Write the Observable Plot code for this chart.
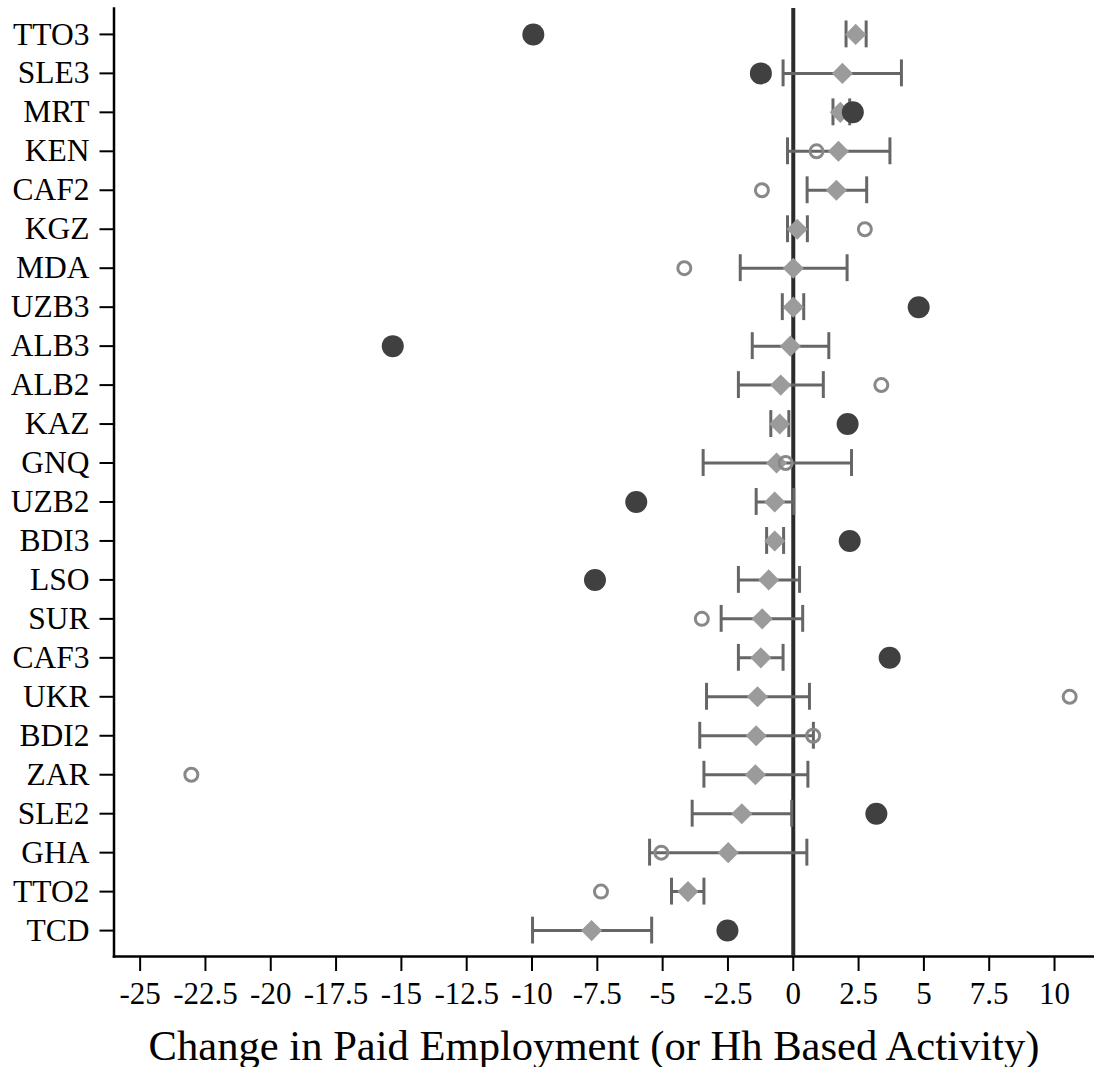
<!DOCTYPE html>
<html>
<head>
<meta charset="utf-8">
<script src="https://cdn.jsdelivr.net/npm/d3@7"></script>
<script src="https://cdn.jsdelivr.net/npm/@observablehq/plot@0.6"></script>
<style>
  body { margin: 0; background: #fff; }
  #xlabel {
    width: 1094px; box-sizing: border-box; padding-left: 94px;
    text-align: center; font-family: "Liberation Serif", serif;
    font-size: 42.6px; line-height: 42px; margin-top: 10px; color: #000;
  }
</style>
</head>
<body>
<div id="chart"></div>
<div id="xlabel">Change in Paid Employment (or Hh Based Activity)</div>
<script>
const countries = ["TTO3","SLE3","MRT","KEN","CAF2","KGZ","MDA","UZB3","ALB3","ALB2","KAZ","GNQ","UZB2","BDI3","LSO","SUR","CAF3","UKR","BDI2","ZAR","SLE2","GHA","TTO2","TCD"];
const estimate = [2.39, 1.88, 1.80, 1.73, 1.65, 0.15, 0.00, 0.00, -0.11, -0.48, -0.52, -0.64, -0.71, -0.71, -0.94, -1.19, -1.24, -1.37, -1.42, -1.45, -1.97, -2.49, -4.03, -7.72];
const ciLow = [2.02, -0.39, 1.52, -0.22, 0.53, -0.22, -2.03, -0.42, -1.57, -2.10, -0.86, -3.45, -1.42, -1.02, -2.10, -2.76, -2.10, -3.32, -3.58, -3.42, -3.87, -5.50, -4.66, -9.98];
const ciHigh = [2.79, 4.14, 2.16, 3.70, 2.81, 0.54, 2.06, 0.40, 1.36, 1.15, -0.17, 2.23, 0.02, -0.37, 0.24, 0.36, -0.39, 0.62, 0.77, 0.56, -0.06, 0.52, -3.42, -5.42];
const comparison = [-9.95, -1.24, 2.28, 0.89, -1.20, 2.74, -4.17, 4.80, -15.33, 3.37, 2.08, -0.29, -6.01, 2.16, -7.59, -3.50, 3.69, 10.58, 0.76, -23.04, 3.18, -5.05, -7.36, -2.52];
const significant = [true, true, true, false, false, false, false, true, true, false, true, false, true, true, true, false, true, false, false, false, true, false, false, true];
const xTicks = [-25, -22.5, -20, -17.5, -15, -12.5, -10, -7.5, -5, -2.5, 0, 2.5, 5, 7.5, 10];

const rows = countries.map((c, i) => ({
  country: c, est: estimate[i], lo: ciLow[i], hi: ciHigh[i],
  other: comparison[i], sig: significant[i]
}));

const font = "Liberation Serif";

const chart = Plot.plot({
  width: 1094,
  height: 1015,
  marginLeft: 113.5,
  marginRight: 0,
  marginTop: 8,
  marginBottom: 59,
  style: { fontFamily: font, background: "#fff", color: "#000" },
  x: { domain: [-26, 11.53], label: null },
  y: { type: "band", domain: countries, paddingInner: 0.31, paddingOuter: 0.32, round: false, label: null },
  marks: [
    Plot.axisX({ ticks: xTicks, tickFormat: d => String(d), tickSize: 15, tickPadding: 10,
                 fontSize: 31, strokeWidth: 2, label: null, fontFamily: font }),
    Plot.axisY({ tickSize: 14, tickPadding: 10.5, fontSize: 31.5, strokeWidth: 2, label: null, fontFamily: font }),
    Plot.frame({ anchor: "left", stroke: "#000", strokeWidth: 2.5 }),
    Plot.frame({ anchor: "bottom", stroke: "#000", strokeWidth: 2.5 }),
    Plot.ruleX([0], { stroke: "#2b2b2b", strokeWidth: 4 }),
    Plot.ruleY(rows, { y: "country", x1: "lo", x2: "hi", stroke: "#666", strokeWidth: 3 }),
    Plot.tickX(rows, { y: "country", x: "lo", stroke: "#666", strokeWidth: 3 }),
    Plot.tickX(rows, { y: "country", x: "hi", stroke: "#666", strokeWidth: 3 }),
    Plot.dot(rows, { y: "country", x: "est", symbol: "diamond2", r: 9.5, fill: "#9b9b9b", stroke: "none" }),
    Plot.dot(rows.filter(d => d.sig), { y: "country", x: "other", r: 11, fill: "#404040", stroke: "none" }),
    Plot.dot(rows.filter(d => !d.sig), { y: "country", x: "other", r: 6.5, fill: "none", stroke: "#888", strokeWidth: 3 })
  ]
});

document.getElementById("chart").appendChild(chart);
</script>
</body>
</html>
